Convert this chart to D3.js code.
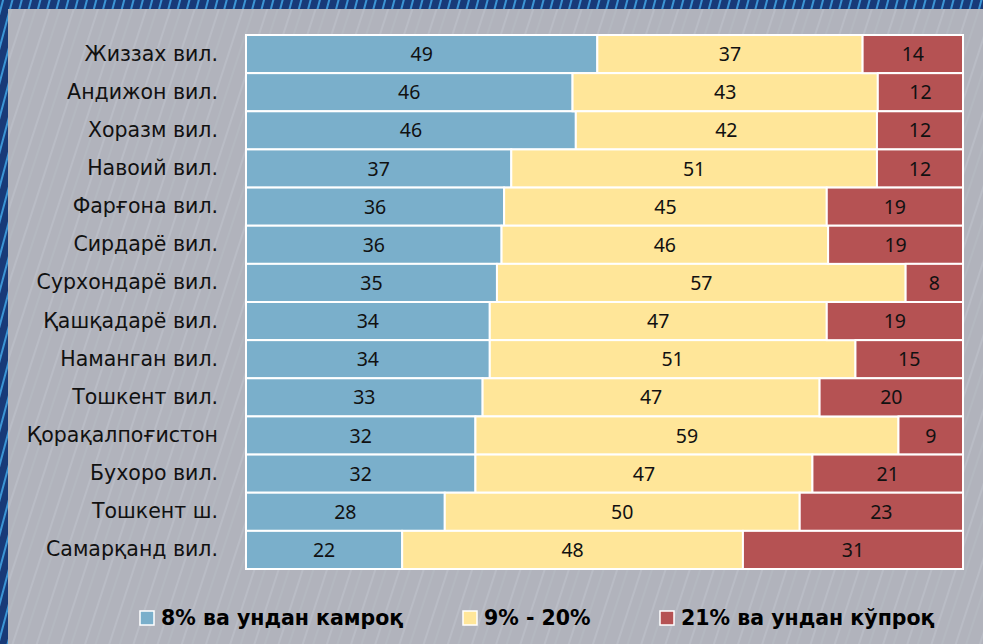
<!DOCTYPE html>
<html>
<head>
<meta charset="utf-8">
<script src="https://cdn.jsdelivr.net/npm/d3@7"></script>
<style>
  html, body { margin: 0; padding: 0; background: #b2b4bd; }
  svg { display: block; }
</style>
</head>
<body>
<svg id="chart" width="983" height="644"></svg>
<script>
// regions, top to bottom
const regions = ["Жиззах вил.", "Андижон вил.", "Хоразм вил.", "Навоий вил.", "Фарғона вил.",
  "Сирдарё вил.", "Сурхондарё вил.", "Қашқадарё вил.", "Наманган вил.", "Тошкент вил.",
  "Қорақалпоғистон", "Бухоро вил.", "Тошкент ш.", "Самарқанд вил."];
const seriesNames = ["8% ва ундан камроқ", "9% - 20%", "21% ва ундан кўпроқ"];
const lowShare = [49, 46, 46, 37, 36, 36, 35, 34, 34, 33, 32, 32, 28, 22];
const midShare = [37, 43, 42, 51, 45, 46, 57, 47, 51, 47, 59, 47, 50, 48];
const highShare = [14, 12, 12, 12, 19, 19, 8, 19, 15, 20, 9, 21, 23, 31];
const colors = ["#7aafcb", "#ffe699", "#b55253"];

const svg = d3.select("#chart");
const W = 983, H = 644;

// background with faint diagonal streaks
const defs = svg.append("defs");
const pat = defs.append("pattern")
  .attr("id", "streaks").attr("patternUnits", "userSpaceOnUse")
  .attr("width", 23).attr("height", 60)
  .attr("patternTransform", "rotate(18)");
pat.append("rect").attr("width", 23).attr("height", 60).attr("fill", "#b1b3bc");
pat.append("line").attr("x1", 4).attr("x2", 4).attr("y1", 0).attr("y2", 60)
  .attr("stroke", "#d4dde4").attr("stroke-width", 1).attr("opacity", 0.45);
pat.append("line").attr("x1", 14).attr("x2", 14).attr("y1", 0).attr("y2", 60)
  .attr("stroke", "#c9d4dc").attr("stroke-width", 0.8).attr("opacity", 0.35);
svg.append("rect").attr("width", W).attr("height", H).attr("fill", "url(#streaks)");

const bpat = defs.append("pattern")
  .attr("id", "border").attr("patternUnits", "userSpaceOnUse")
  .attr("width", 9).attr("height", 40)
  .attr("patternTransform", "rotate(15)");
bpat.append("rect").attr("width", 9).attr("height", 40).attr("fill", "#183a78");
bpat.append("line").attr("x1", 3).attr("x2", 3).attr("y1", 0).attr("y2", 40)
  .attr("stroke", "#3f9fe0").attr("stroke-width", 1.8);
svg.append("rect").attr("x", 0).attr("y", 0).attr("width", W).attr("height", 9).attr("fill", "url(#border)");
svg.append("rect").attr("x", 0).attr("y", 0).attr("width", 8).attr("height", H).attr("fill", "url(#border)");

// data rows normalized to 100%
const rows = regions.map((name, i) => ({
  name, low: lowShare[i], mid: midShare[i], high: highShare[i]
}));
const keys = ["low", "mid", "high"];
const stack = d3.stack().keys(keys).offset(d3.stackOffsetExpand);
const stacked = stack(rows);

const x = d3.scaleLinear().domain([0, 1]).range([246, 963]);
const y = d3.scaleBand().domain(regions).range([35, 569]).paddingInner(0).paddingOuter(0);

const font = "'Noto Sans', 'Open Sans', sans-serif";
const labelFont = "'DejaVu Sans', sans-serif";

const layers = svg.selectAll(".layer")
  .data(stacked)
  .enter().append("g")
  .attr("class", "layer")
  .attr("fill", (d, i) => colors[i]);

layers.selectAll("rect")
  .data((d) => d.map((p) => ({ p, key: d.key })))
  .enter().append("rect")
  .attr("x", (d) => x(d.p[0]))
  .attr("y", (d) => y(d.p.data.name))
  .attr("width", (d) => x(d.p[1]) - x(d.p[0]))
  .attr("height", y.bandwidth())
  .attr("stroke", "#ffffff")
  .attr("stroke-width", 2);

layers.selectAll("text")
  .data((d) => d.map((p) => ({ p, key: d.key })))
  .enter().append("text")
  .attr("x", (d) => (x(d.p[0]) + x(d.p[1])) / 2)
  .attr("y", (d) => y(d.p.data.name) + y.bandwidth() / 2)
  .attr("dy", "0.36em")
  .attr("text-anchor", "middle")
  .attr("fill", "#111")
  .style("font-family", font)
  .style("font-size", "19.5px")
  .text((d) => d.p.data[d.key]);

// category axis
const yAxis = svg.append("g")
  .attr("transform", "translate(246,0)")
  .call(d3.axisLeft(y).tickSize(0).tickPadding(28));
yAxis.select(".domain").remove();
yAxis.selectAll("text")
  .attr("fill", "#111")
  .style("font-family", labelFont)
  .style("font-size", "20.5px");

// legend
const legendX = [140, 463, 660];
const legend = svg.append("g").attr("transform", "translate(0,618)");
const items = legend.selectAll("g")
  .data(seriesNames)
  .enter().append("g")
  .attr("transform", (d, i) => `translate(${legendX[i]},0)`);
items.append("rect")
  .attr("x", 0).attr("y", -7)
  .attr("width", 14).attr("height", 14)
  .attr("fill", (d, i) => colors[i])
  .attr("stroke", "#fff").attr("stroke-width", 1.5);
items.append("text")
  .attr("x", 21).attr("dy", "0.36em")
  .attr("fill", "#000")
  .style("font-family", labelFont)
  .style("font-size", "20.5px")
  .style("font-weight", "bold")
  .text((d) => d);
</script>
</body>
</html>
